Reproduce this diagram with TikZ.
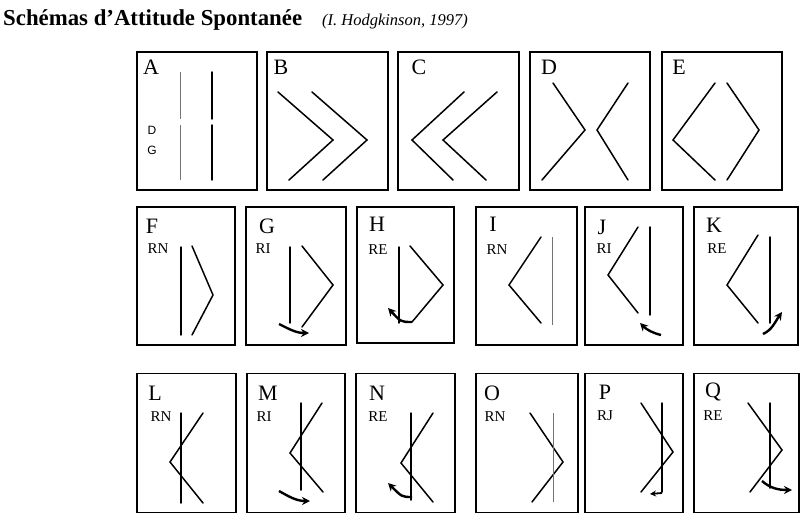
\documentclass[tikz,border=0pt]{standalone}
\usepackage{fontspec}
\setmainfont{Liberation Serif}
\newfontfamily\sansf{Liberation Sans}
\usetikzlibrary{arrows.meta}
\begin{document}
\begin{tikzpicture}[x=1pt,y=-1pt,
  frame/.style={draw, line width=1.3pt, inner sep=0pt},
  letter/.style={inner sep=0pt, font=\fontsize{22}{23}\selectfont},
  code/.style={inner sep=0pt, font=\fontsize{15}{16}\selectfont},
  small/.style={inner sep=0pt, font=\sansf\fontsize{12}{13}\selectfont},
  ln/.style={line width=1.5pt, line cap=round, line join=miter},
  thin/.style={line width=1pt, black!55},
  arr/.style={line width=2.4pt, -{Stealth[length=8pt,width=8pt]}}
]
\useasboundingbox (0,0) rectangle (810,529);
\node[anchor=base west, inner sep=0pt] (title) at (3,26)
  {\bfseries\fontsize{22.8}{25}\selectfont Schémas d’Attitude Spontanée\hspace{20pt}{\mdseries\itshape\fontsize{16.5}{18}\selectfont(I. Hodgkinson, 1997)}};
% ---------- row 1
\node[frame, minimum width=120pt, minimum height=138pt] (bA) at (197,121) {};
\node[frame, minimum width=121pt, minimum height=138pt] (bB) at (327.5,121) {};
\node[frame, minimum width=121pt, minimum height=138pt] (bC) at (458.5,121) {};
\node[frame, minimum width=120pt, minimum height=138pt] (bD) at (590,121) {};
\node[frame, minimum width=120pt, minimum height=138pt] (bE) at (722,121) {};
\node[letter] (lA) at (151,67) {A};
\node[letter] (lB) at (281,67) {B};
\node[letter] (lC) at (419,67) {C};
\node[letter] (lD) at (549,67) {D};
\node[letter] (lE) at (679,67) {E};
\node[small] (dA) at (152,130) {D};
\node[small] (gA) at (152,150) {G};
% A
\draw[thin] (180,72) -- (180,119) (180,125) -- (180,180);
\draw[ln] (212,72) -- (212,119) (212,125) -- (212,180);
% B
\draw[ln] (278,92) -- (333,140) -- (289,180);
\draw[ln] (312,92) -- (367,140) -- (323,180);
% C
\draw[ln] (464,92) -- (412,140) -- (453,180);
\draw[ln] (497,92) -- (443,140) -- (486,180);
% D
\draw[ln] (553,83) -- (585,130) -- (542,180);
\draw[ln] (628,83) -- (597,130) -- (628,180);
% E
\draw[ln] (715,83) -- (673,140) -- (715,180);
\draw[ln] (727,83) -- (759,130) -- (727,180);
% ---------- row 2
\node[frame, minimum width=98pt, minimum height=138pt] (bF) at (186,276) {};
\node[frame, minimum width=100pt, minimum height=138pt] (bG) at (296,276) {};
\node[frame, minimum width=97pt, minimum height=136pt] (bH) at (405.5,275) {};
\node[frame, minimum width=101pt, minimum height=138pt] (bI) at (526.5,276) {};
\node[frame, minimum width=98pt, minimum height=138pt] (bJ) at (634,276) {};
\node[frame, minimum width=104pt, minimum height=138pt] (bK) at (746,276) {};
\node[letter] (lF) at (152,226) {F};
\node[letter] (lG) at (267,226) {G};
\node[letter] (lH) at (377,224) {H};
\node[letter] (lI) at (493,224) {I};
\node[letter] (lJ) at (602,227) {J};
\node[letter] (lK) at (714,225) {K};
\node[code] (cF) at (158,249) {RN};
\node[code] (cG) at (263,249) {RI};
\node[code] (cH) at (378,250) {RE};
\node[code] (cI) at (497,250) {RN};
\node[code] (cJ) at (604,249) {RI};
\node[code] (cK) at (717,249) {RE};
% F
\draw[ln] (181,247) -- (181,335);
\draw[ln] (192,246) -- (213,295) -- (192,335);
% G
\draw[ln] (290,247) -- (290,323);
\draw[ln] (302,246) -- (333,285) -- (302,327);
\draw[arr] (279,324) .. controls (289,329) and (296,333) .. (309,333);
% H
\draw[ln] (399,247) -- (399,323);
\draw[ln] (410,246) -- (443,285) -- (412,322);
\draw[arr] (412,322) .. controls (401,322) .. (388,308);
% I
\draw[ln] (541,237) -- (509,285) -- (541,323);
\draw[thin] (552,237) -- (552,325);
% J
\draw[ln] (638,227) -- (608,275) -- (638,313);
\draw[ln] (650,227) -- (650,315);
\draw[arr] (661,335) .. controls (653,333) and (647,330) .. (640,323);
% K
\draw[ln] (758,235) -- (727,285) -- (758,323);
\draw[ln] (770,237) -- (770,323);
\draw[arr] (763,334) .. controls (772,330) and (775,322) .. (782,312);
% ---------- row 3
\node[frame, minimum width=99pt, minimum height=139pt] (bL) at (186.5,443) {};
\node[frame, minimum width=98pt, minimum height=139pt] (bM) at (296,443) {};
\node[frame, minimum width=99pt, minimum height=139pt] (bN) at (405.5,443) {};
\node[frame, minimum width=102pt, minimum height=139pt] (bO) at (527,443) {};
\node[frame, minimum width=98pt, minimum height=139pt] (bP) at (634,443) {};
\node[frame, minimum width=105pt, minimum height=139pt] (bQ) at (746.5,443) {};
\node[letter] (lL) at (155,393) {L};
\node[letter] (lM) at (268,393) {M};
\node[letter] (lN) at (377,393) {N};
\node[letter] (lO) at (492,393) {O};
\node[letter] (lP) at (605,392) {P};
\node[letter] (lQ) at (713,392) {Q};
\node[code] (cL) at (161,417) {RN};
\node[code] (cM) at (264,417) {RI};
\node[code] (cN) at (378,417) {RE};
\node[code] (cO) at (495,417) {RN};
\node[code] (cP) at (605,416) {RJ};
\node[code] (cQ) at (713,416) {RE};
% L
\draw[ln] (181,413) -- (181,503);
\draw[ln] (203,413) -- (170,462) -- (203,503);
% M
\draw[ln] (301,403) -- (301,490);
\draw[ln] (322,403) -- (290,453) -- (323,492);
\draw[arr] (279,491) .. controls (288,496) and (296,501) .. (310,501);
% N
\draw[ln] (411,413) -- (411,500);
\draw[ln] (433,413) -- (401,463) -- (433,502);
\draw[arr] (412,497) .. controls (402,497) .. (388,483);
% O
\draw[ln] (530,413) -- (563,462) -- (532,502);
\draw[thin] (553,413) -- (553,502);
% P
\draw[ln] (662,403) -- (662,492);
\draw[ln] (641,403) -- (673,452) -- (641,492);
\draw[line width=1.8pt, -{Stealth[length=6pt,width=6pt]}] (662,493) -- (650,494);
% Q
\draw[ln] (770,403) -- (770,488);
\draw[ln] (748,403) -- (782,450) -- (750,492);
\draw[arr] (762,481) .. controls (770,488) and (778,490) .. (792,490);
\end{tikzpicture}
\end{document}
